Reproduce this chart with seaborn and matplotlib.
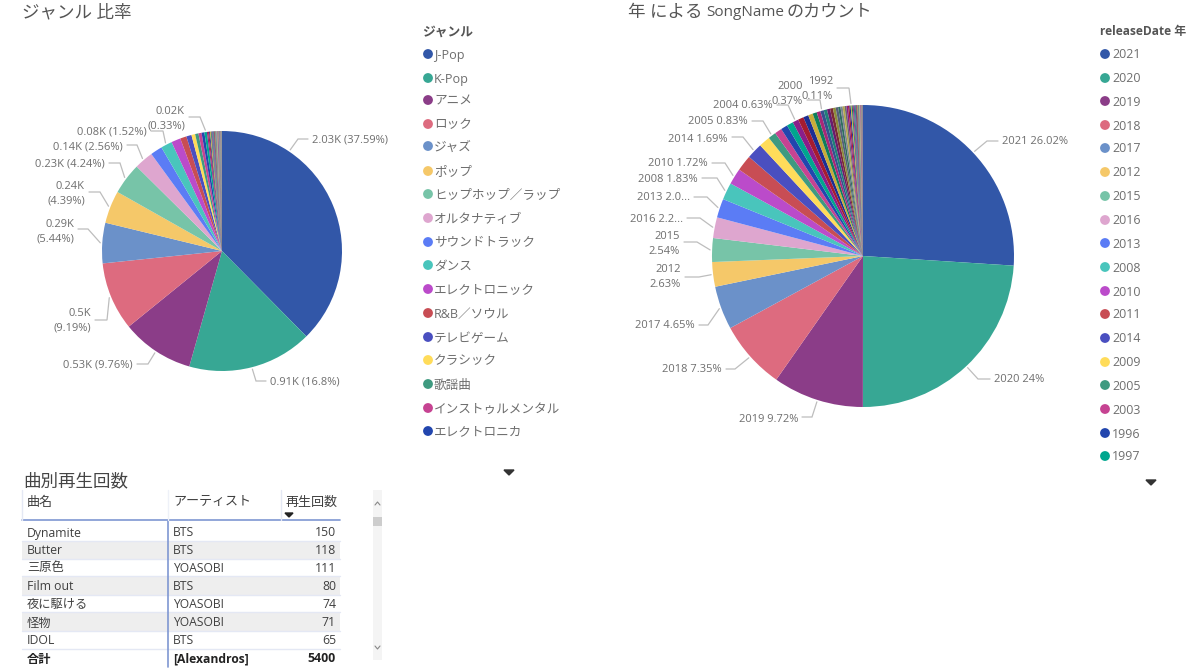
import numpy as np
import pandas as pd
import matplotlib
matplotlib.use('Agg')
import matplotlib.pyplot as plt
from matplotlib.patches import Rectangle, Polygon
import seaborn as sns

sns.set_theme(style="white")
plt.rcParams['font.family'] = ['Open Sans', 'Noto Sans CJK JP', 'DejaVu Sans']

W, H = 1200, 668

genres = ['J-Pop', 'K-Pop', 'アニメ', 'ロック', 'ジャズ', 'ポップ', 'ヒップホップ／ラップ', 'オルタナティブ',
          'サウンドトラック', 'ダンス', 'エレクトロニック', 'R&B／ソウル', 'テレビゲーム', 'クラシック',
          '歌謡曲', 'インストゥルメンタル', 'エレクトロニカ']
genre_share = [37.59, 16.8, 9.76, 9.19, 5.44, 4.39, 4.24, 2.56, 1.6, 1.52, 1.25, 0.85, 0.7, 0.5, 0.45, 0.42, 0.38,
               0.33, 0.16, 0.14, 0.12, 0.11, 0.1, 0.1, 0.09, 0.09, 0.08, 0.08, 0.07, 0.07, 0.06, 0.06, 0.05, 0.05,
               0.05, 0.04, 0.04, 0.04, 0.03, 0.03, 0.03, 0.03, 0.02, 0.02, 0.02, 0.02, 0.02, 0.02, 0.01, 0.01,
               0.01, 0.01, 0.01, 0.01, 0.01, 0.01, 0.01, 0.01, 0.01, 0.01, 0.01, 0.01, 0.01, 0.01, 0.01, 0.01]

years = ['2021', '2020', '2019', '2018', '2017', '2012', '2015', '2016', '2013', '2008', '2010', '2011', '2014',
         '2009', '2005', '2003', '1996', '1997']
year_share = [26.02, 24.0, 9.72, 7.35, 4.65, 2.63, 2.54, 2.22, 2.02, 1.83, 1.72, 1.7, 1.69, 1.21, 0.83, 0.77, 0.72,
              0.7, 0.63, 0.6, 0.55, 0.5, 0.45, 0.4, 0.37, 0.35, 0.33, 0.31, 0.29, 0.27, 0.25, 0.23, 0.21, 0.19,
              0.17, 0.15, 0.13, 0.11, 0.11, 0.11, 0.1, 0.1, 0.09, 0.08, 0.07, 0.07, 0.06, 0.05, 0.05, 0.04, 0.04,
              0.03, 0.03, 0.03, 0.02, 0.02, 0.02, 0.02, 0.02, 0.02, 0.01, 0.01]

song_names = ['Dynamite', 'Butter', '三原色', 'Film out', '夜に駆ける', '怪物', 'IDOL']
artists = ['BTS', 'BTS', 'YOASOBI', 'BTS', 'YOASOBI', 'YOASOBI', 'BTS']
plays = [150, 118, 111, 80, 74, 71, 65]
total_artist = '[Alexandros]'
total_plays = 5400

base_colors = ['#3257A8', '#37A794', '#8B3D88', '#DD6B7F', '#6B91C9', '#F5C869', '#77C4A8', '#DEA6CF', '#5B7CF5',
               '#49C5BC', '#BB4BCA', '#C84D54', '#4A4FC0', '#FFDC5A', '#3F9A80', '#C64392', '#2246AE', '#00A68E',
               '#8A1E8A', '#A51C30', '#1C2E93', '#C9AC3A', '#0F7E5A', '#A82877', '#36508F', '#1F7F78', '#6A1B6E',
               '#7A2A35', '#8C8C3A', '#555F78', '#2F6F5F', '#7E8490', '#B5A84A', '#6A6A6A']
pie_palette = sns.color_palette(base_colors, n_colors=len(base_colors))

text_grey = '#6E6E6E'
line_grey = '#BDBDBD'
table_text = '#404040'
table_blue = '#7F97D2'

fig = plt.figure(figsize=(12, 6.68), dpi=100)


def slice_color(i):
    # after the first pass only the dark end of the palette repeats
    if i < len(pie_palette):
        return pie_palette[i]
    return pie_palette[18 + (i - 18) % (len(pie_palette) - 18)]


def draw_pie(values, cx, cy, r):
    ax = fig.add_axes([(cx - r) / W, 1 - (cy + r) / H, 2 * r / W, 2 * r / H])
    cols = [slice_color(i) for i in range(len(values))]
    wedges, _ = ax.pie(values, colors=cols, startangle=90, counterclock=False,
                       wedgeprops={'linewidth': 0, 'clip_on': False})
    ax.set_xlim(-1, 1)
    ax.set_ylim(-1, 1)
    ax.axis('off')
    return wedges


left_wedges = draw_pie(genre_share, 222, 251, 120)
right_wedges = draw_pie(year_share, 863, 256, 151)

ov = fig.add_axes([0, 0, 1, 1], zorder=5)
ov.set_xlim(0, W)
ov.set_ylim(H, 0)
ov.axis('off')
ov.patch.set_alpha(0)


def draw_labels(wedges, cx, cy, r, labels):
    # (slice, text, text x, text y, elbow x, elbow y, angle override)
    for idx, txt, tx, ty, ex, ey, angle in labels:
        w = wedges[idx]
        a = np.deg2rad(angle if angle is not None else (w.theta1 + w.theta2) / 2)
        sx, sy = cx + (r + 2) * np.cos(a), cy - (r + 2) * np.sin(a)
        ha = 'left' if tx > cx else 'right'
        end = tx - 4 if ha == 'left' else tx + 4
        ov.plot([sx, ex, end], [sy, ey, ey], color=line_grey, lw=0.9, solid_joinstyle='miter')
        ov.text(tx, ty + 1, txt, ha=ha, va='center', fontsize=8.0, color=text_grey, linespacing=1.4)


draw_labels(left_wedges, 222, 251, 120, [
    (0, '2.03K (37.59%)', 312, 139, 298, 139, 56),
    (1, '0.91K (16.8%)', 270, 381, 256, 381, None),
    (2, '0.53K (9.76%)', 133, 364, 148, 364, None),
    (3, '0.5K\n(9.19%)', 91, 320, 107, 320, None),
    (4, '0.29K\n(5.44%)', 74, 231, 88, 229, None),
    (5, '0.24K\n(4.39%)', 85, 193, 100, 192, None),
    (6, '0.23K (4.24%)', 105, 163, 120, 163, None),
    (7, '0.14K (2.56%)', 123, 146, 137, 145, None),
    (9, '0.08K (1.52%)', 147, 131, 163, 131, None),
    (17, '0.02K\n(0.33%)', 185, 118, 200, 117, None),
])

draw_labels(right_wedges, 863, 256, 151, [
    (0, '2021 26.02%', 1002, 141, 987, 141, None),
    (1, '2020 24%', 994, 379, 978, 379, None),
    (2, '2019 9.72%', 798, 418, 812, 417, None),
    (3, '2018 7.35%', 722, 369, 735, 369, None),
    (4, '2017 4.65%', 695, 325, 708, 325, None),
    (5, '2012\n2.63%', 681, 276, 699, 277, None),
    (6, '2015\n2.54%', 680, 243, 697, 242, None),
    (7, '2016 2.2...', 683, 219, 700, 218, None),
    (8, '2013 2.0...', 690, 197, 707, 197, None),
    (9, '2008 1.83%', 698, 178, 717, 178, None),
    (10, '2010 1.72%', 708, 163, 725, 163, None),
    (12, '2014 1.69%', 728, 138, 743, 137, None),
    (14, '2005 0.83%', 748, 121, 763, 121, None),
    (18, '2004 0.63%', 773, 105, 788, 105, None),
    (24, '2000\n0.37%', 803, 93, 820, 100, None),
    (37, '1992\n0.11%', 833, 88, 849, 88, None),
])

# titles
ov.text(22, 13, 'ジャンル 比率', fontsize=12.6, color='#555555', va='center')
ov.text(628, 13, '年 による', fontsize=12.6, color='#555555', va='center')
ov.text(706, 13, 'SongName', fontsize=11, color='#555555', va='center')
ov.text(787, 13, 'のカウント', fontsize=12.3, color='#555555', va='center')
ov.text(23, 482, '曲別再生回数', fontsize=12.6, color='#444444', va='center')

# legends
genre_y = [54, 78, 100, 124, 146, 171, 194, 218, 242, 265, 289, 313, 337, 360, 384, 408, 431]
year_y = [54, 78, 101, 125, 148, 172, 196, 220, 243, 267, 291, 314, 338, 362, 385, 409, 433, 456]

ov.text(422, 32, 'ジャンル', fontsize=9.2, fontweight='bold', color='#555555', va='center')
legend_left = pd.DataFrame({'name': genres, 'x': 428, 'y': genre_y})
sns.scatterplot(data=legend_left, x='x', y='y', hue='name', palette=base_colors[:len(genres)], s=50,
                linewidth=0, legend=False, ax=ov)
for name, y in zip(genres, genre_y):
    ov.text(434, y + 1, name, fontsize=9.1, color=text_grey, va='center')
ov.add_patch(Polygon([[504, 470], [514, 470], [509, 475]], color='#333333'))

ov.text(1100, 32, 'releaseDate 年', fontsize=8.6, fontweight='bold', color='#555555', va='center')
legend_right = pd.DataFrame({'name': years, 'x': 1105, 'y': year_y})
sns.scatterplot(data=legend_right, x='x', y='y', hue='name', palette=base_colors[:len(years)], s=50,
                linewidth=0, legend=False, ax=ov)
for name, y in zip(years, year_y):
    ov.text(1112, y + 1, name, fontsize=8.9, color=text_grey, va='center')
ov.add_patch(Polygon([[1146, 480], [1156, 480], [1151, 485]], color='#333333'))

# table
row_y = [532, 550, 567, 586, 603, 622, 640]
for y in row_y[1::2]:
    ov.add_patch(Rectangle((22, y - 9), 318, 18, color='#EEEEEE', lw=0, zorder=0))
for y in row_y[:-1]:
    ov.plot([22, 340], [y + 8.5, y + 8.5], color='#E4E8F4', lw=1, zorder=1)
ov.plot([22, 340], [649, 649], color='#E4E8F4', lw=1, zorder=1)
ov.plot([22, 340], [520, 520], color=table_blue, lw=1.2)
ov.plot([168, 168], [520, 667], color=table_blue, lw=1.2)
ov.plot([168, 168], [490, 520], color='#EEF1F8', lw=1)
ov.plot([280.5, 280.5], [490, 520], color='#E4E8F4', lw=1)
ov.plot([22, 22], [490, 520], color='#E4E8F4', lw=1)

ov.text(27, 502, '曲名', fontsize=9.4, color=table_text, va='center')
ov.text(173, 502, 'アーティスト', fontsize=9.4, color=table_text, va='center')
ov.text(285, 502, '再生回数', fontsize=9.4, color=table_text, va='center')
ov.add_patch(Polygon([[285, 513], [293, 513], [289, 517]], color='#222222'))

for y, song, artist, n in zip(row_y, song_names, artists, plays):
    ov.text(27, y + 1, song, fontsize=8.8, color=table_text, va='center')
    ov.text(173, y + 1, artist, fontsize=8.7, color=table_text, va='center')
    ov.text(336, y + 1, str(n), fontsize=8.8, color=table_text, va='center', ha='right')
ov.text(27, 659, '合計', fontsize=8.8, color='#222222', fontweight='bold', va='center')
ov.text(173, 659, total_artist, fontsize=8.7, color='#222222', fontweight='bold', va='center')
ov.text(336, 659, str(total_plays), fontsize=8.8, color='#222222', fontweight='bold', va='center', ha='right')

# scrollbar
ov.add_patch(Rectangle((373, 490), 9, 170, color='#F4F4F4', lw=0))
ov.add_patch(Rectangle((373, 517), 9, 9, color='#CDCDCD', lw=0))
ov.plot([375, 377.5, 380], [505, 502, 505], color='#888888', lw=0.8)
ov.plot([375, 377.5, 380], [646, 649, 646], color='#888888', lw=0.8)

fig.savefig('out.png', dpi=100, facecolor='white')
